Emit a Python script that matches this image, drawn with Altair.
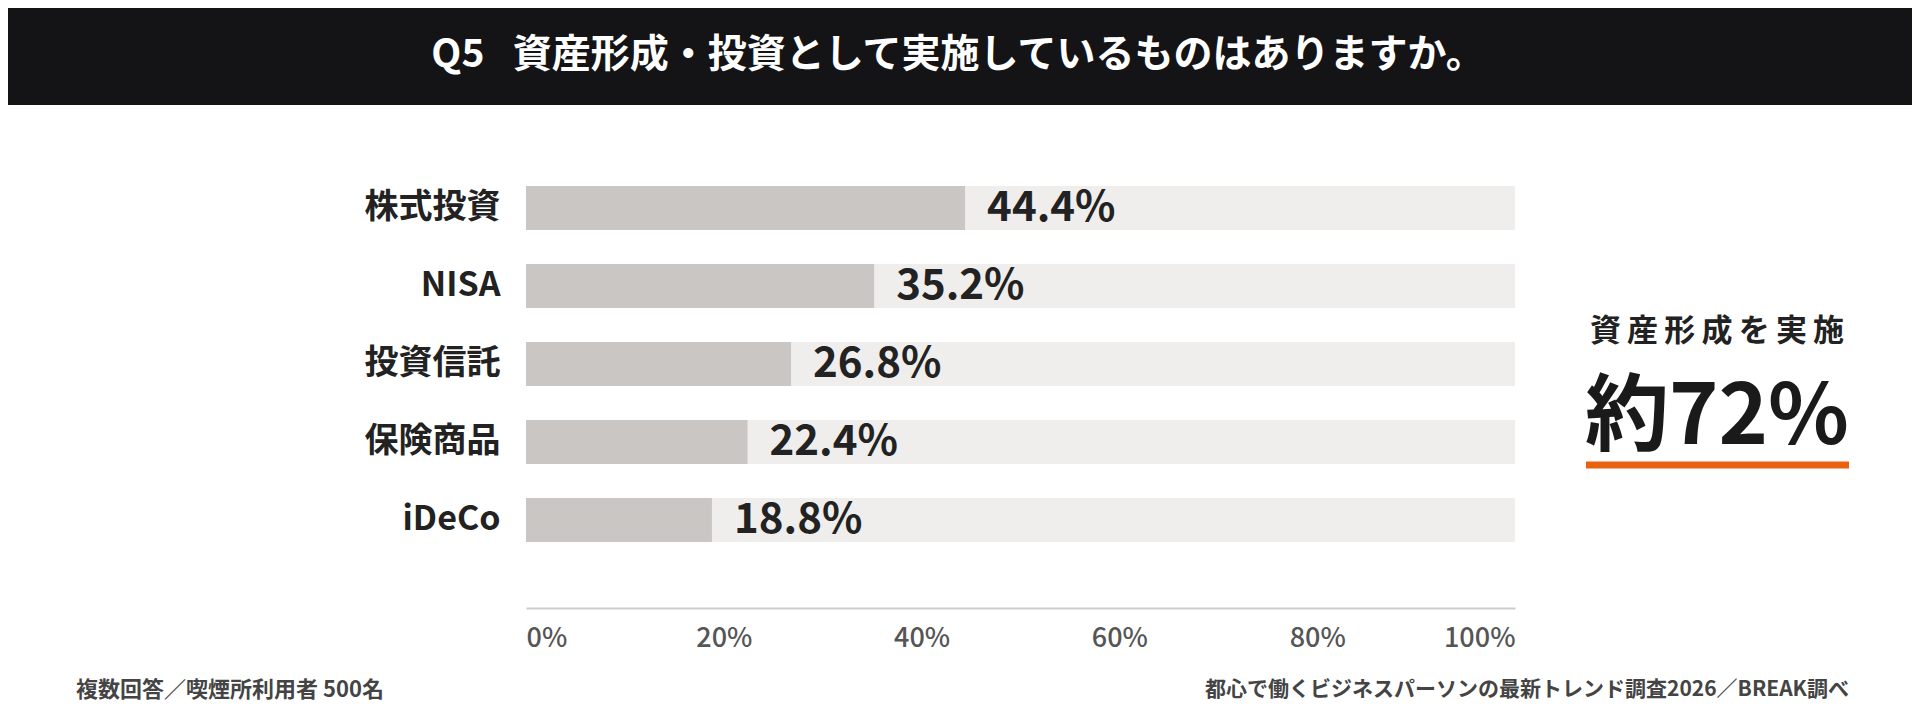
import altair as alt
import pandas as pd

# survey values (%)
categories = ["株式投資", "NISA", "投資信託", "保険商品", "iDeCo"]
values = [44.4, 35.2, 26.8, 22.4, 18.8]
full = [100, 100, 100, 100, 100]
x_ticks = [0, 20, 40, 60, 80, 100]

title_text = "Q5\u2002 資産形成・投資として実施しているものはありますか。"
kpi_label = "\u2009".join("資産形成を実施")
kpi_value = "約72%"
note_left = "複数回答／喫煙所利用者 500名"
note_right = "都心で働くビジネスパーソンの最新トレンド調査2026／BREAK調べ"

FONT = "Noto Sans CJK JP"

df = pd.DataFrame({"cat": categories, "val": values, "full": full})
df["label"] = [f"{v:.1f}%" for v in values]
one = pd.DataFrame({"a": [0]})

y_enc = alt.Y(
    "cat:N", sort=categories, title=None,
    scale=alt.Scale(paddingInner=0, paddingOuter=0),
    axis=alt.Axis(ticks=False, domain=False, labelPadding=26, labelFontSize=34,
                  labelFontWeight="bold", labelColor="#222222", labelFont=FONT),
)

bg = alt.Chart(df).mark_bar(height=44, color="#efeeec").encode(
    x=alt.X("full:Q", scale=alt.Scale(domain=[0, 100]), title=None,
            axis=alt.Axis(values=x_ticks, labelExpr="datum.value + '%'", ticks=False,
                          grid=False, domainColor="#cccccc", domainWidth=2, offset=49,
                          labelPadding=17, labelFontSize=27, labelFontWeight=500,
                          labelColor="#555555", labelFont=FONT, labelFlush=True)),
    y=y_enc,
)

bars = alt.Chart(df).mark_bar(height=44, color="#c9c6c3").encode(
    x="val:Q",
    y=alt.Y("cat:N", sort=categories),
)

labels = alt.Chart(df).mark_text(
    align="left", baseline="middle", dx=22, fontSize=42, fontWeight=600,
    color="#222222", font=FONT,
).encode(
    x="val:Q",
    y=alt.Y("cat:N", sort=categories),
    text="label:N",
)

header = alt.Chart(one).mark_rect(color="#141417").encode(
    x=alt.value(-518), x2=alt.value(1386), y=alt.value(-161), y2=alt.value(-64)
)
title = alt.Chart(one).mark_text(
    text=title_text, fontSize=39, fontWeight="bold", color="#ffffff", font=FONT,
    align="center", baseline="middle",
).encode(x=alt.value(432), y=alt.value(-114))

kpi1 = alt.Chart(one).mark_text(
    text=kpi_label, fontSize=31, fontWeight="bold", color="#222222", font=FONT,
    align="center", baseline="middle",
).encode(x=alt.value(1191), y=alt.value(163))
kpi2 = alt.Chart(one).mark_text(
    text=kpi_value, fontSize=84, fontWeight="bold", color="#1a1a1a", font=FONT,
    align="center", baseline="middle",
).encode(x=alt.value(1191), y=alt.value(250))
underline = alt.Chart(one).mark_rule(color="#e8620f", strokeWidth=7).encode(
    x=alt.value(1060), x2=alt.value(1323), y=alt.value(296)
)

foot_l = alt.Chart(one).mark_text(
    text=note_left, fontSize=22, fontWeight="bold", color="#444444", font=FONT,
    align="left", baseline="middle",
).encode(x=alt.value(-450), y=alt.value(521))
foot_r = alt.Chart(one).mark_text(
    text=note_right, fontSize=21, fontWeight="bold", color="#444444", font=FONT,
    align="right", baseline="middle",
).encode(x=alt.value(1323), y=alt.value(521))

chart = alt.layer(
    header, title, bg, bars, labels, kpi1, kpi2, underline, foot_l, foot_r
).properties(
    width=989, height=390,
    autosize="none",
    padding={"left": 518, "top": 161, "right": 397, "bottom": 159},
    background="#ffffff",
).configure_view(stroke=None)

chart.save("out.html", embed_options={"renderer": "svg", "actions": False})
